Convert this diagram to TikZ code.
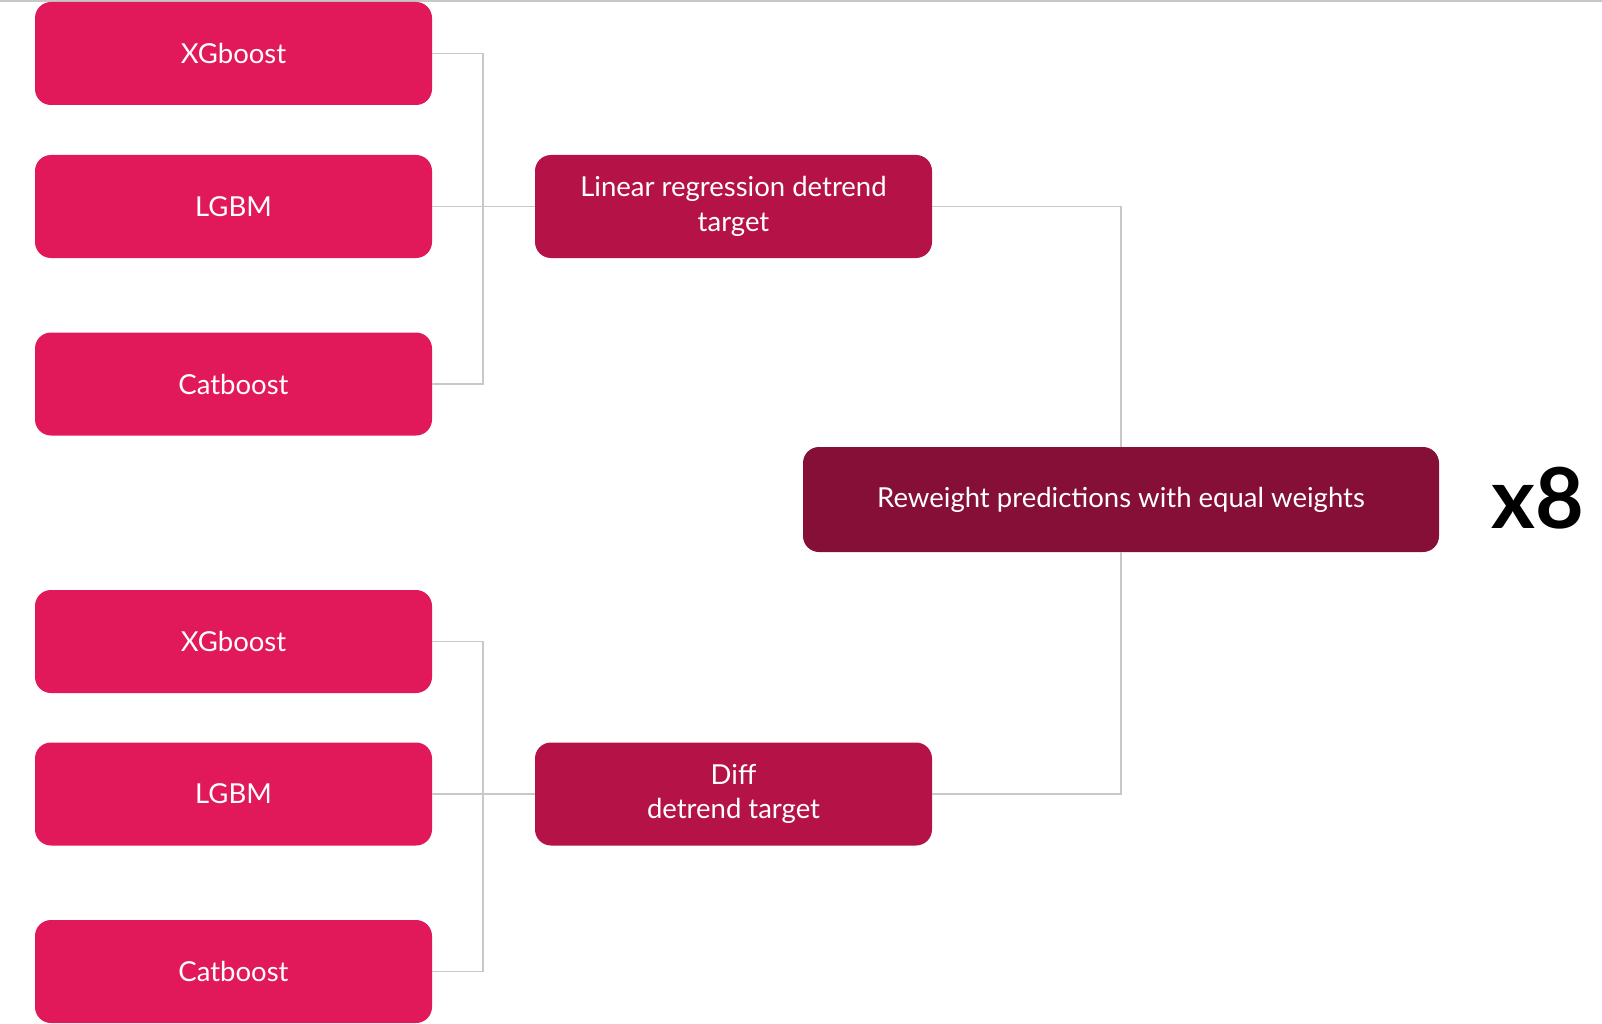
\documentclass[tikz,border=0pt]{standalone}
\usepackage{fontspec}
\setmainfont{Lato}
\definecolor{modelred}{RGB}{225,25,90}
\definecolor{detrendred}{RGB}{181,18,72}
\definecolor{blendred}{RGB}{133,15,54}
\definecolor{wiregray}{RGB}{200,200,200}
\begin{document}
\begin{tikzpicture}[x=1pt,y=-1pt,font=\fontsize{27.5}{34.5}\selectfont]
    \tikzset{box/.style={rounded corners=16pt, minimum width=397pt, minimum height=103pt, align=center, text=white, inner sep=0pt},
             wire/.style={draw=wiregray, line width=1.6pt}}
    \useasboundingbox (0,0) rectangle (1602,1024);
    \draw[wiregray, line width=1.5pt] (0,1) -- (1602,1);
    % first group
    \node[box, fill=modelred] (xgA) at (233.5,53.5) {XGboost};
    \node[box, fill=modelred] (lgbmA) at (233.5,206.5) {LGBM};
    \node[box, fill=modelred] (catA) at (233.5,384) {Catboost};
    \node[box, fill=detrendred] (lin) at (733.5,206.5) {Linear regression detrend\\target};
    % second group
    \node[box, fill=modelred] (xgB) at (233.5,641.5) {XGboost};
    \node[box, fill=modelred] (lgbmB) at (233.5,794) {LGBM};
    \node[box, fill=modelred] (catB) at (233.5,971.5) {Catboost};
    \node[box, fill=detrendred] (diff) at (733.5,794) {Diff\\detrend target};
    % blend
    \node[box, fill=blendred, minimum width=636pt, minimum height=105pt] (blend) at (1121,499.5) {Reweight predictions with equal weights};
    \node[font=\fontsize{84}{84}\selectfont\bfseries] (times) at (1538,498) {x8};
    \coordinate (busA) at (483,206.5);
    \coordinate (busB) at (483,794);
    \draw[wire] (xgA.east) -| (busA) |- (catA.east);
    \draw[wire] (lgbmA) -- (lin);
    \draw[wire] (xgB.east) -| (busB) |- (catB.east);
    \draw[wire] (lgbmB) -- (diff);
    \draw[wire] (lin.east) -| (blend.north);
    \draw[wire] (diff.east) -| (blend.south);
\end{tikzpicture}
\end{document}
